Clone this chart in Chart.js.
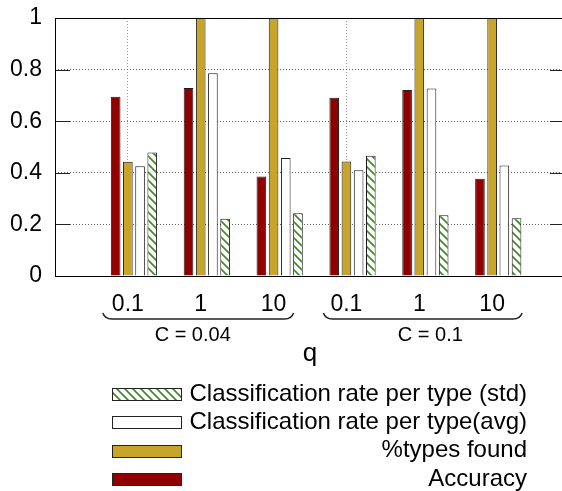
<!DOCTYPE html>
<html>
<head>
<meta charset="utf-8">
<script src="https://cdn.jsdelivr.net/npm/chart.js@4.4.0/dist/chart.umd.min.js"></script>
<style>
  html, body { margin: 0; padding: 0; background: #fff; overflow: hidden; }
  canvas { display: block; }
</style>
</head>
<body>
<canvas id="chart" width="566" height="491"></canvas>
<script>
// values
const qLabels = ['0.1', '1', '10', '0.1', '1', '10'];
const cGroups = ['C = 0.04', 'C = 0.1'];
const accuracy = [0.695, 0.729, 0.386, 0.691, 0.721, 0.377];
const typesFound = [0.443, 1, 1, 0.444, 1, 1];
const rateAvg = [0.425, 0.786, 0.457, 0.410, 0.727, 0.428];
const rateStd = [0.479, 0.222, 0.243, 0.466, 0.235, 0.224];
const yTicks = [0, 0.2, 0.4, 0.6, 0.8, 1];

Chart.defaults.font.family = '"Liberation Sans", Arial, sans-serif';
Chart.defaults.color = '#000';

const canvas = document.getElementById('chart');
const ctx = canvas.getContext('2d');

// green diagonal hatch like gnuplot's pattern fill
const makeHatch = () => {
    const c = document.createElement('canvas');
    c.width = 8; c.height = 8;
    const g = c.getContext('2d');
    g.fillStyle = '#fff';
    g.fillRect(0, 0, 8, 8);
    g.strokeStyle = '#3a8a1c';
    g.lineWidth = 1.6;
    g.beginPath();
    g.moveTo(-1, -1); g.lineTo(9, 9);
    g.moveTo(-1, 7); g.lineTo(1, 9);
    g.moveTo(7, -1); g.lineTo(9, 1);
    g.stroke();
    return ctx.createPattern(c, 'repeat');
};
const hatch = makeHatch();

// empty slot at each end of the x range, like the gnuplot xrange
const pad = arr => [null, ...arr, null];
const xLabels = pad(qLabels).map(v => v === null ? '' : v);

const bar = (label, data, fill) => ({
    label: label,
    data: pad(data),
    backgroundColor: fill,
    borderColor: '#1c1c1c',
    borderWidth: 1
});

const deco = {
    id: 'deco',
    afterDatasetsDraw(chart) {
        const { ctx, chartArea: a, scales: { y } } = chart;
        ctx.save();
        // inner tick marks left and right
        ctx.strokeStyle = '#222';
        ctx.lineWidth = 1;
        yTicks.forEach(v => {
            const py = Math.round(y.getPixelForValue(v)) + 0.5;
            ctx.beginPath();
            ctx.moveTo(a.left, py); ctx.lineTo(a.left + 15, py);
            ctx.moveTo(a.right - 15, py); ctx.lineTo(a.right, py);
            ctx.stroke();
        });
        // frame
        ctx.strokeStyle = '#000';
        ctx.strokeRect(Math.round(a.left) + 0.5, Math.round(a.top) + 0.5,
            Math.round(a.right - a.left), Math.round(a.bottom - a.top));
        ctx.restore();
    },
    afterDraw(chart) {
        const { ctx, chartArea: a, scales: { x } } = chart;
        ctx.save();
        // braces under each group of q values
        const bracePad = [[25, 20], [23, 30]];
        const labelShift = [-8, 11];
        const yTop = a.bottom + 37, yBot = a.bottom + 43;
        ctx.strokeStyle = '#222';
        ctx.lineWidth = 1.5;
        ctx.font = '20px "Liberation Sans", Arial, sans-serif';
        ctx.fillStyle = '#000';
        ctx.textAlign = 'center';
        ctx.textBaseline = 'middle';
        cGroups.forEach((name, i) => {
            const first = 1 + i * 3;
            const x1 = x.getPixelForValue(first) - bracePad[i][0];
            const x2 = x.getPixelForValue(first + 2) + bracePad[i][1];
            ctx.beginPath();
            ctx.moveTo(x1, yTop);
            ctx.quadraticCurveTo(x1 + 2, yBot, x1 + 9, yBot);
            ctx.lineTo(x2 - 9, yBot);
            ctx.quadraticCurveTo(x2 - 2, yBot, x2, yTop);
            ctx.stroke();
            ctx.fillText(name, x.getPixelForValue(first + 1) + labelShift[i], a.bottom + 59);
        });

        // legend, gnuplot style: sample on the left, text right aligned
        const items = chart.data.datasets.filter(d => d.label).slice().reverse();
        ctx.font = '24px "Liberation Sans", Arial, sans-serif';
        ctx.textAlign = 'right';
        ctx.lineWidth = 1;
        items.forEach((d, i) => {
            const cy = 394 + i * 28.3;
            ctx.fillStyle = d.backgroundColor;
            ctx.fillRect(112, Math.round(cy - 6), 69, 12);
            ctx.strokeStyle = '#222';
            ctx.strokeRect(112.5, Math.round(cy - 6) + 0.5, 69, 12);
            ctx.fillStyle = '#000';
            ctx.fillText(d.label, 527, cy);
        });
        ctx.restore();
    }
};

new Chart(ctx, {
    type: 'bar',
    data: {
        labels: xLabels,
        datasets: [
            // keeps an empty slot left of each cluster so the tic sits on the 2nd bar
            { label: '', data: pad(qLabels.map(() => null)) },
            bar('Accuracy', accuracy, '#900000'),
            bar('%types found', typesFound, '#c7a42a'),
            bar('Classification rate per type(avg)', rateAvg, '#ffffff'),
            bar('Classification rate per type (std)', rateStd, hatch)
        ]
    },
    options: {
        responsive: false,
        animation: false,
        devicePixelRatio: 1,
        categoryPercentage: 0.837,
        barPercentage: 0.79,
        layout: { padding: { top: 18, right: 1, bottom: 0, left: 0 } },
        plugins: {
            legend: { display: false },
            tooltip: { enabled: false }
        },
        scales: {
            x: {
                offset: false,
                afterFit: s => {
                    s.height = 215;
                    s.paddingLeft = 0;
                    s.paddingRight = 0;
                },
                grid: {
                    offset: false,
                    drawTicks: false,
                    color: c => (c.index === 1 || c.index === 4) ? '#999' : 'rgba(0,0,0,0)'
                },
                border: { display: false, dash: [1, 2] },
                ticks: {
                    font: { size: 23 },
                    padding: 15,
                    maxRotation: 0,
                    autoSkip: false
                },
                title: {
                    display: true,
                    text: 'q',
                    font: { size: 26 },
                    padding: { top: 0, bottom: 122 }
                }
            },
            y: {
                min: 0,
                max: 1,
                afterFit: s => {
                    s.width = 55;
                    s.paddingTop = 0;
                    s.paddingBottom = 0;
                },
                afterBuildTicks: s => { s.ticks = yTicks.map(v => ({ value: v })); },
                grid: { drawTicks: false, color: '#666' },
                border: { display: false, dash: [1, 2] },
                ticks: {
                    font: { size: 23 },
                    padding: 13,
                    callback: v => String(+v.toFixed(1))
                }
            }
        }
    },
    plugins: [deco]
});
</script>
</body>
</html>
